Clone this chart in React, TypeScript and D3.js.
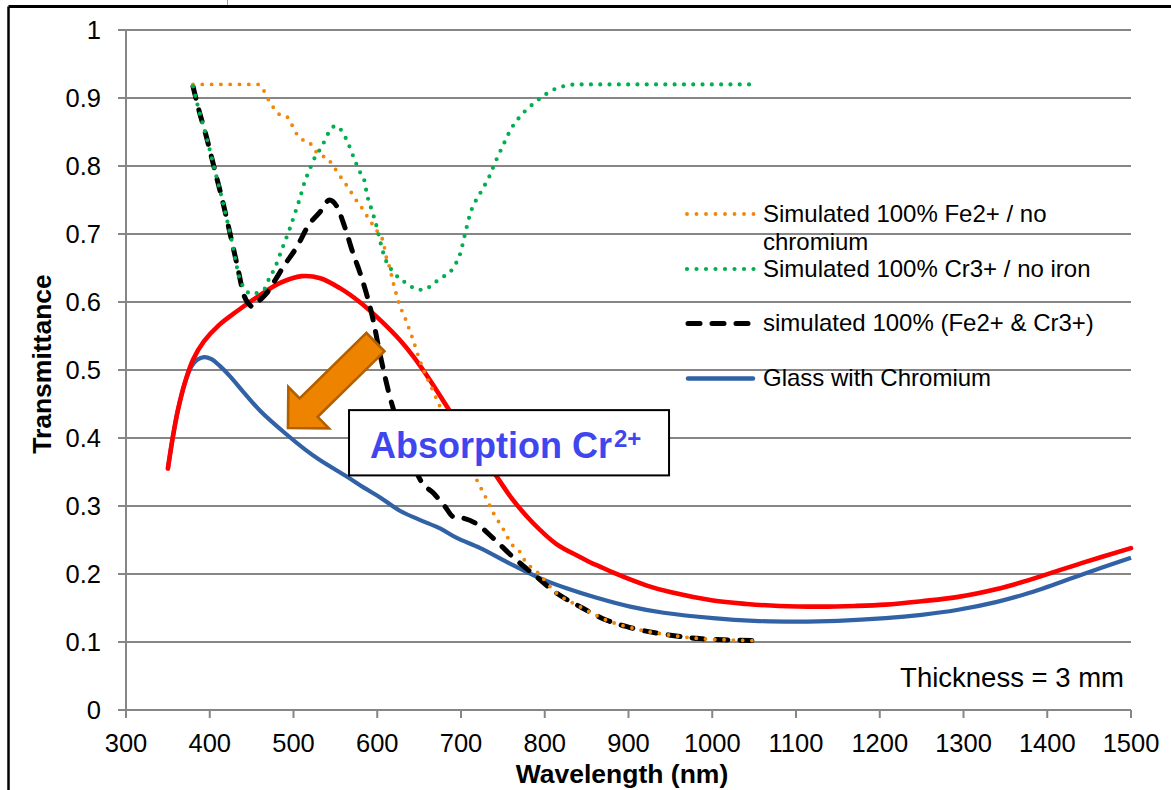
import React from "react";
import * as d3 from "d3";

// Wavelength (nm) / transmittance pairs for each spectrum
const fe2Wavelength = [380, 458, 464, 469, 475, 481, 491, 497, 502, 508, 518, 524, 532, 540, 546, 552, 559, 565, 571, 577, 583, 589, 595, 601, 607, 611, 614, 620, 626, 634, 642, 653, 666, 675, 700, 719, 729, 739, 750, 761, 770, 776, 791, 814, 842, 874, 906, 950, 985, 1020, 1050];
const fe2Transmittance = [0.92, 0.92, 0.912, 0.9, 0.888, 0.877, 0.874, 0.863, 0.851, 0.84, 0.836, 0.826, 0.815, 0.813, 0.802, 0.792, 0.779, 0.769, 0.757, 0.746, 0.736, 0.724, 0.713, 0.702, 0.689, 0.665, 0.654, 0.624, 0.598, 0.574, 0.547, 0.507, 0.471, 0.446, 0.39, 0.338, 0.314, 0.289, 0.267, 0.243, 0.233, 0.22, 0.203, 0.172, 0.152, 0.132, 0.12, 0.11, 0.105, 0.103, 0.102];

const cr3Wavelength = [380, 386, 396, 406, 416, 426, 437, 450, 466, 471, 477, 486, 495, 503, 507, 514, 519, 524, 530, 536, 542, 550, 559, 565, 574, 579, 585, 587, 594, 598, 601, 607, 611, 618, 626, 636, 648, 656, 666, 677, 687, 694, 699, 702, 705, 708, 711, 716, 722, 728, 734, 739, 744, 752, 760, 770, 782, 795, 810, 825, 840, 1050];
const cr3Transmittance = [0.917, 0.887, 0.843, 0.794, 0.745, 0.691, 0.63, 0.612, 0.62, 0.635, 0.648, 0.677, 0.706, 0.735, 0.75, 0.779, 0.794, 0.809, 0.821, 0.834, 0.849, 0.859, 0.849, 0.834, 0.806, 0.792, 0.777, 0.763, 0.733, 0.717, 0.702, 0.673, 0.659, 0.646, 0.635, 0.627, 0.618, 0.618, 0.626, 0.636, 0.644, 0.657, 0.671, 0.685, 0.701, 0.716, 0.73, 0.745, 0.758, 0.771, 0.785, 0.8, 0.814, 0.835, 0.855, 0.872, 0.887, 0.9, 0.912, 0.918, 0.92, 0.92];

const bothWavelength = [380, 386, 396, 406, 416, 426, 434, 440, 446, 452, 460, 468, 478, 488, 504, 518, 532, 543, 552, 561, 571, 581, 595, 603, 615, 625, 640, 653, 667, 681, 691, 703, 717, 739, 762, 790, 814, 842, 874, 906, 950, 985, 1020, 1050];
const bothTransmittance = [0.917, 0.887, 0.843, 0.794, 0.745, 0.691, 0.647, 0.613, 0.598, 0.593, 0.603, 0.613, 0.632, 0.652, 0.681, 0.713, 0.733, 0.75, 0.74, 0.711, 0.672, 0.637, 0.574, 0.525, 0.461, 0.42, 0.37, 0.335, 0.319, 0.299, 0.284, 0.282, 0.275, 0.252, 0.225, 0.196, 0.172, 0.152, 0.132, 0.12, 0.11, 0.105, 0.103, 0.102];

const chromiumWavelength = [350, 356, 362, 370, 378, 385, 393, 402, 412, 424, 440, 461, 490, 514, 531, 564, 584, 603, 627, 650, 675, 695, 723, 762, 794, 826, 862, 902, 942, 1001, 1050, 1100, 1150, 1207, 1250, 1292, 1340, 1378, 1441, 1500];
const chromiumTransmittance = [0.355, 0.402, 0.441, 0.48, 0.505, 0.515, 0.519, 0.516, 0.506, 0.491, 0.468, 0.439, 0.407, 0.383, 0.368, 0.343, 0.327, 0.313, 0.293, 0.28, 0.267, 0.253, 0.238, 0.213, 0.194, 0.179, 0.165, 0.152, 0.143, 0.135, 0.131, 0.13, 0.131, 0.135, 0.14, 0.147, 0.159, 0.172, 0.199, 0.224];

const baseWavelength = [350, 356, 362, 370, 380, 393, 411, 432, 460, 484, 510, 532, 556, 579, 603, 627, 643, 663, 687, 714, 741, 762, 786, 814, 842, 858, 864, 882, 922, 951, 1001, 1041, 1080, 1130, 1170, 1207, 1250, 1292, 1340, 1378, 1441, 1500];
const baseTransmittance = [0.355, 0.402, 0.441, 0.48, 0.515, 0.542, 0.566, 0.586, 0.61, 0.628, 0.638, 0.635, 0.62, 0.6, 0.574, 0.544, 0.52, 0.485, 0.439, 0.392, 0.346, 0.309, 0.275, 0.244, 0.225, 0.215, 0.212, 0.202, 0.183, 0.173, 0.161, 0.156, 0.153, 0.152, 0.153, 0.155, 0.16, 0.166, 0.178, 0.191, 0.216, 0.238];

const xTickValues = [300, 400, 500, 600, 700, 800, 900, 1000, 1100, 1200, 1300, 1400, 1500];
const yTickValues = [0, 0.1, 0.2, 0.3, 0.4, 0.5, 0.6, 0.7, 0.8, 0.9, 1];
const yTickLabels = ["0", "0.1", "0.2", "0.3", "0.4", "0.5", "0.6", "0.7", "0.8", "0.9", "1"];

const legendLabels = [
  ["Simulated 100% Fe2+ / no", "chromium"],
  ["Simulated 100% Cr3+ / no iron"],
  ["simulated 100% (Fe2+ & Cr3+)"],
  ["Glass with Chromium"],
];

// Arrow annotation: tail centre and tip, in (nm, transmittance)
const arrowTail = [597.8, 0.541];
const arrowTip = [493.4, 0.4147];

const FONT = "'Liberation Sans', Arial, Helvetica, sans-serif";
const GRID = "#868686";
const ORANGE = "#F0870C";
const GREEN = "#00B050";
const BLUE = "#3162A6";
const RED = "#FF0000";

const x = d3.scaleLinear().domain([300, 1500]).range([126, 1131]);
const y = d3.scaleLinear().domain([0, 1]).range([710, 30]);

const toPoints = (wl: number[], tr: number[]) => wl.map((w, i) => [w, tr[i]] as [number, number]);

const smooth = d3
  .line<[number, number]>()
  .x((d) => x(d[0]))
  .y((d) => y(d[1]))
  .curve(d3.curveCatmullRom.alpha(0.5));

const mono = d3
  .line<[number, number]>()
  .x((d) => x(d[0]))
  .y((d) => y(d[1]))
  .curve(d3.curveMonotoneX);

function arrowPath() {
  const tx = x(arrowTip[0]);
  const ty = y(arrowTip[1]);
  const sx = x(arrowTail[0]);
  const sy = y(arrowTail[1]);
  const len = Math.hypot(tx - sx, ty - sy);
  const ux = (tx - sx) / len;
  const uy = (ty - sy) / len;
  const nx = -uy;
  const ny = ux;
  const shaftHalf = 12.9;
  const headHalf = 29;
  const headLen = 29;
  const bx = tx - ux * headLen;
  const by = ty - uy * headLen;
  const pts = [
    [sx + nx * shaftHalf, sy + ny * shaftHalf],
    [bx + nx * shaftHalf, by + ny * shaftHalf],
    [bx + nx * headHalf, by + ny * headHalf],
    [tx, ty],
    [bx - nx * headHalf, by - ny * headHalf],
    [bx - nx * shaftHalf, by - ny * shaftHalf],
    [sx - nx * shaftHalf, sy - ny * shaftHalf],
  ];
  return "M" + pts.map((p) => p.join(",")).join("L") + "Z";
}

export default function App() {
  const fe2 = toPoints(fe2Wavelength, fe2Transmittance);
  const cr3 = toPoints(cr3Wavelength, cr3Transmittance);
  const both = toPoints(bothWavelength, bothTransmittance);
  const chromium = toPoints(chromiumWavelength, chromiumTransmittance);
  const base = toPoints(baseWavelength, baseTransmittance);

  const boxX0 = x(566.3);
  const boxX1 = x(948.4);
  const boxY0 = y(0.441);
  const boxY1 = y(0.345);

  return (
    <svg
      width={1171}
      height={790}
      style={{ position: "absolute", left: 0, top: 0, background: "#fff" }}
      fontFamily={FONT}
    >
      <rect x={0} y={0} width={1171} height={790} fill="#fff" />
      {/* outer frame */}
      <line x1={8.5} y1={6.5} x2={1171} y2={6.5} stroke="#000" strokeWidth={3} />
      <line x1={8.5} y1={6.5} x2={8.5} y2={790} stroke="#000" strokeWidth={2.5} />
      <line x1={227.5} y1={0} x2={227.5} y2={5} stroke="#7FA7D6" strokeWidth={1} />

      {/* horizontal gridlines and y ticks */}
      {yTickValues.map((v, i) => (
        <g key={"y" + i}>
          <line x1={118} x2={1131} y1={y(v)} y2={y(v)} stroke={GRID} strokeWidth={2} />
          <text x={101} y={y(v) + 9} textAnchor="end" fontSize={25.5} fill="#000">
            {yTickLabels[i]}
          </text>
        </g>
      ))}
      <line x1={126} x2={126} y1={y(1)} y2={y(0)} stroke={GRID} strokeWidth={2} />

      {/* x ticks */}
      {xTickValues.map((w) => (
        <g key={"x" + w}>
          <line x1={x(w)} x2={x(w)} y1={710} y2={718} stroke={GRID} strokeWidth={2} />
          <text x={x(w)} y={751.5} textAnchor="middle" fontSize={25.5} fill="#000">
            {w}
          </text>
        </g>
      ))}

      {/* axis titles */}
      <text x={622} y={783} textAnchor="middle" fontSize={26.5} fontWeight="bold">
        Wavelength (nm)
      </text>
      <text transform="translate(51,364) rotate(-90)" textAnchor="middle" fontSize={26.5} fontWeight="bold">
        Transmittance
      </text>

      {/* spectra */}
      <path d={smooth(chromium) || ""} fill="none" stroke={BLUE} strokeWidth={4.2} strokeLinejoin="round" />
      <path d={smooth(base) || ""} fill="none" stroke={RED} strokeWidth={4.6} strokeLinejoin="round" strokeLinecap="round" />
      <path
        d={mono(both) || ""}
        fill="none"
        stroke="#000"
        strokeWidth={5}
        strokeDasharray="12 12"
        strokeLinecap="round"
        strokeLinejoin="round"
      />
      <path
        d={mono(fe2) || ""}
        fill="none"
        stroke={ORANGE}
        strokeWidth={3.9}
        strokeDasharray="0 9.3"
        strokeLinecap="round"
      />
      <path
        d={mono(cr3) || ""}
        fill="none"
        stroke={GREEN}
        strokeWidth={4.2}
        strokeDasharray="0 9.3"
        strokeLinecap="round"
      />

      {/* legend */}
      <g fontSize={24} fill="#000">
        <line x1={687} x2={754} y1={214} y2={214} stroke={ORANGE} strokeWidth={3.9} strokeDasharray="0 9.5" strokeLinecap="round" />
        <text x={763} y={222}>{legendLabels[0][0]}</text>
        <text x={763} y={250}>{legendLabels[0][1]}</text>

        <line x1={687} x2={754} y1={269} y2={269} stroke={GREEN} strokeWidth={4.2} strokeDasharray="0 9.5" strokeLinecap="round" />
        <text x={763} y={277}>{legendLabels[1][0]}</text>

        <line x1={688} x2={748} y1={323.5} y2={323.5} stroke="#000" strokeWidth={5} strokeDasharray="12 12" strokeLinecap="round" />
        <text x={763} y={331}>{legendLabels[2][0]}</text>

        <line x1={688} x2={753} y1={378.5} y2={378.5} stroke={BLUE} strokeWidth={4.5} strokeLinecap="round" />
        <text x={763} y={386}>{legendLabels[3][0]}</text>
      </g>

      {/* annotation arrow */}
      <path d={arrowPath()} fill="#EE8300" stroke="#B25F00" strokeWidth={2.6} strokeLinejoin="miter" />

      {/* annotation box */}
      <rect
        x={boxX0}
        y={boxY0}
        width={boxX1 - boxX0}
        height={boxY1 - boxY0}
        fill="#fff"
        stroke="#000"
        strokeWidth={2}
      />
      <text x={370} y={457.5} fontSize={36} fontWeight="bold" fill="#3F46EE">
        Absorption Cr
        <tspan dx={2} dy={-11} fontSize={24}>2+</tspan>
      </text>

      <text x={1124} y={686.5} textAnchor="end" fontSize={27.5} fill="#000">
        Thickness = 3 mm
      </text>
    </svg>
  );
}
